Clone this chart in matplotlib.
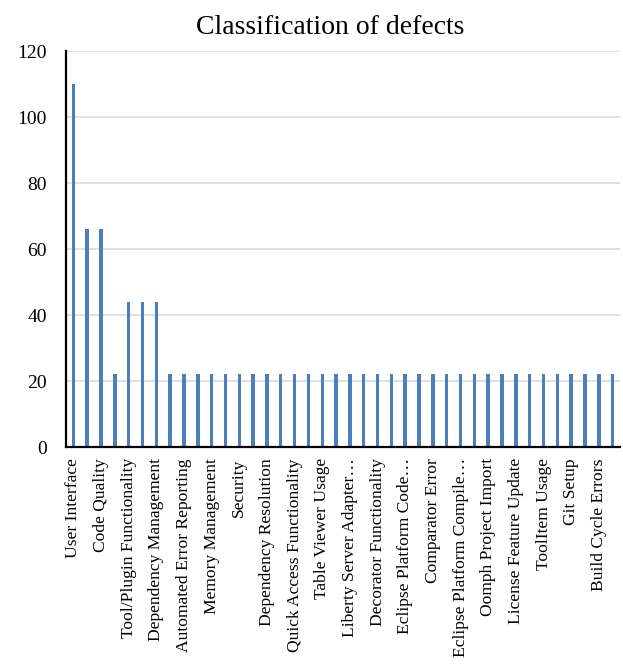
import matplotlib
matplotlib.use("Agg")
import matplotlib.pyplot as plt
import numpy as np

plt.rcParams['font.family'] = ['Liberation Serif', 'DejaVu Serif']

# defect categories (only every other one gets a visible label on the axis)
labels = [
    "User Interface", "Code Quality", "Tool/Plugin Functionality",
    "Dependency Management", "Automated Error Reporting", "Memory Management",
    "Security", "Dependency Resolution", "Quick Access Functionality",
    "Table Viewer Usage", "Liberty Server Adapter…", "Decorator Functionality",
    "Eclipse Platform Code…", "Comparator Error", "Eclipse Platform Compile…",
    "Oomph Project Import", "License Feature Update", "ToolItem Usage",
    "Git Setup", "Build Cycle Errors",
]
counts = [110, 66, 66, 22, 44, 44, 44] + [22] * 33

x = np.arange(len(counts))

fig = plt.figure(figsize=(6.23, 6.66), dpi=100)
ax = fig.add_axes([0.1066, 0.3288, 0.8879, 0.5946])

ax.bar(x, counts, width=0.25, color='#4a7ebf', zorder=3)

ax.set_xlim(-0.5, len(counts) - 0.5)
ax.set_ylim(0, 120)
ax.set_yticks(np.arange(0, 121, 20))
ax.set_xticks(x[::2])
ax.set_xticklabels(labels, rotation=90)
ax.tick_params(axis='both', length=0)
ax.tick_params(axis='x', labelsize=12.6, pad=8)
ax.tick_params(axis='y', labelsize=14, pad=14)

ax.yaxis.grid(True, color='#d9d9d9', linewidth=1.2, zorder=0)
ax.set_axisbelow(True)
for s in ['top', 'right']:
    ax.spines[s].set_visible(False)
for s in ['left', 'bottom']:
    ax.spines[s].set_color('black')
    ax.spines[s].set_linewidth(1.6)
    ax.spines[s].set_zorder(4)

fig.text(0.53, 0.958, "Classification of defects", ha='center', va='center', fontsize=20)

fig.savefig("out.png", dpi=100)
